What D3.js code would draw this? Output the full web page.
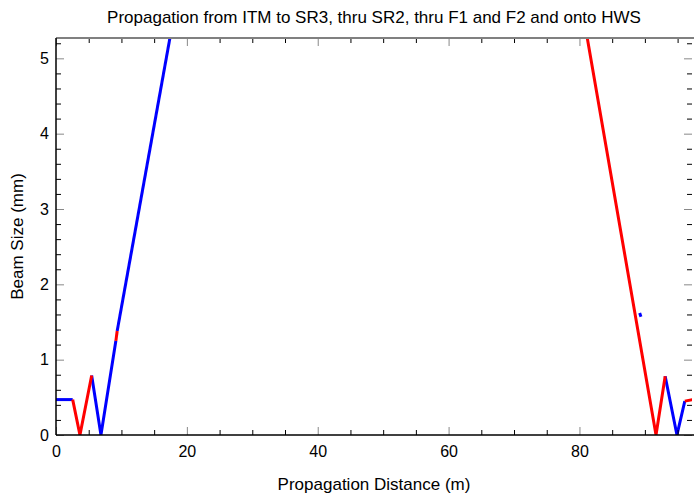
<!DOCTYPE html>
<html>
<head>
<meta charset="utf-8">
<script src="https://cdn.jsdelivr.net/npm/d3@7"></script>
<style>
  html, body { margin: 0; padding: 0; background: #fff; }
  svg { display: block; font-family: "Liberation Sans", Arial, sans-serif; }
</style>
</head>
<body>
<svg id="chart" width="694" height="496"></svg>
<script>
// Beam size along the propagation path, drawn as alternating coloured sections
const segmentX = [
  [0, 2.55],
  [2.55, 3.66, 5.45],
  [5.45, 6.87, 9.15],
  [9.15, 9.35],
  [9.35, 20.0],
  [79.0, 91.7, 93.1],
  [89.2, 89.4],
  [93.1, 94.9, 96.1],
  [96.1, 97.3]
];
const segmentY = [
  [0.47, 0.47],
  [0.47, 0.0, 0.79],
  [0.79, 0.0, 1.25],
  [1.25, 1.38],
  [1.38, 6.52],
  [6.37, 0.0, 0.78],
  [1.62, 1.57],
  [0.78, 0.0, 0.45],
  [0.45, 0.47]
];
const segmentColor = ["blue", "red", "blue", "red", "blue", "red", "blue", "blue", "red"];

const xMajorTicks = [0, 20, 40, 60, 80];
const yMajorTicks = [0, 1, 2, 3, 4, 5];
const xDomain = [0, 97.2];
const yDomain = [0, 5.27];

const titleText = "Propagation from ITM to SR3, thru SR2, thru F1 and F2 and onto HWS";
const xLabelText = "Propagation Distance (m)";
const yLabelText = "Beam Size (mm)";

const svg = d3.select("#chart");
const plotLeft = 56, plotRight = 692, plotTop = 38, plotBottom = 435;

const x = d3.scaleLinear().domain(xDomain).range([plotLeft, plotRight]);
const y = d3.scaleLinear().domain(yDomain).range([plotBottom, plotTop]);

const xMinor = d3.range(0, xDomain[1], 5).filter(v => !xMajorTicks.includes(v));
const yMinor = d3.range(0, yDomain[1], 0.2).map(v => +v.toFixed(1)).filter(v => !yMajorTicks.includes(v));

svg.append("clipPath").attr("id", "plotClip")
  .append("rect").attr("x", plotLeft).attr("y", plotTop)
  .attr("width", plotRight - plotLeft).attr("height", plotBottom - plotTop);

// Lines: blue sections first, red sections on top
const line = d3.line().x(d => x(d[0])).y(d => y(d[1]));
const g = svg.append("g").attr("clip-path", "url(#plotClip)");
const drawOrder = d3.range(segmentX.length).sort((a, b) =>
  (segmentColor[a] === "red") - (segmentColor[b] === "red") || a - b);
drawOrder.forEach(i => {
  const pts = segmentX[i].map((v, j) => [v, segmentY[i][j]]);
  g.append("path").datum(pts)
    .attr("d", line)
    .attr("fill", "none")
    .attr("stroke", segmentColor[i])
    .attr("stroke-width", 3)
    .attr("stroke-linejoin", "miter");
});

// Axes: ticks point inward
function styleAxis(sel) {
  sel.select(".domain").remove();
  sel.selectAll("text").attr("font-size", 16).attr("fill", "#000")
    .attr("font-family", "'Liberation Sans', Arial, sans-serif");
}
function tickOnly(axis, pos, values, size, colour) {
  svg.append("g").attr("transform", pos)
    .call(axis.tickValues(values).tickSize(size).tickFormat(""))
    .call(s => s.select(".domain").remove())
    .selectAll(".tick line").attr("stroke", colour);
}

// bottom
const bottomAxis = svg.append("g").attr("transform", `translate(0,${plotBottom})`)
  .call(d3.axisBottom(x).tickValues(xMajorTicks).tickSize(-8).tickPadding(11).tickFormat(d3.format("d")));
styleAxis(bottomAxis);
bottomAxis.selectAll(".tick line").attr("stroke", "#888");
tickOnly(d3.axisBottom(x), `translate(0,${plotBottom})`, xMinor, -5, "#000");

// top
tickOnly(d3.axisTop(x), `translate(0,${plotTop})`, xMajorTicks, -8, "#888");
tickOnly(d3.axisTop(x), `translate(0,${plotTop})`, xMinor, -5, "#000");

// left
const leftAxis = svg.append("g").attr("transform", `translate(${plotLeft},0)`)
  .call(d3.axisLeft(y).tickValues(yMajorTicks).tickSize(-8).tickPadding(7).tickFormat(d3.format("d")));
styleAxis(leftAxis);
leftAxis.selectAll(".tick line").attr("stroke", "#888");
tickOnly(d3.axisLeft(y), `translate(${plotLeft},0)`, yMinor, -5, "#000");

// right
tickOnly(d3.axisRight(y), `translate(${plotRight},0)`, yMajorTicks, -8, "#888");
tickOnly(d3.axisRight(y), `translate(${plotRight},0)`, yMinor, -5, "#000");

// Frame lines: grey top, black left and bottom
svg.append("line").attr("x1", plotLeft).attr("x2", plotRight + 2).attr("y1", plotTop).attr("y2", plotTop)
  .attr("stroke", "#808080").attr("stroke-width", 2);
svg.append("line").attr("x1", plotLeft).attr("x2", plotLeft).attr("y1", plotTop).attr("y2", plotBottom)
  .attr("stroke", "#000").attr("stroke-width", 1.5);
svg.append("line").attr("x1", plotLeft).attr("x2", plotRight + 2).attr("y1", plotBottom).attr("y2", plotBottom)
  .attr("stroke", "#000").attr("stroke-width", 1.5);

// Text
svg.append("text").attr("x", (plotLeft + plotRight) / 2).attr("y", 23)
  .attr("text-anchor", "middle").attr("font-size", 17).text(titleText);
svg.append("text").attr("x", (plotLeft + plotRight) / 2).attr("y", 490)
  .attr("text-anchor", "middle").attr("font-size", 17).text(xLabelText);
svg.append("text").attr("transform", `translate(23,${(plotTop + plotBottom) / 2}) rotate(-90)`)
  .attr("text-anchor", "middle").attr("font-size", 17).text(yLabelText);
</script>
</body>
</html>
